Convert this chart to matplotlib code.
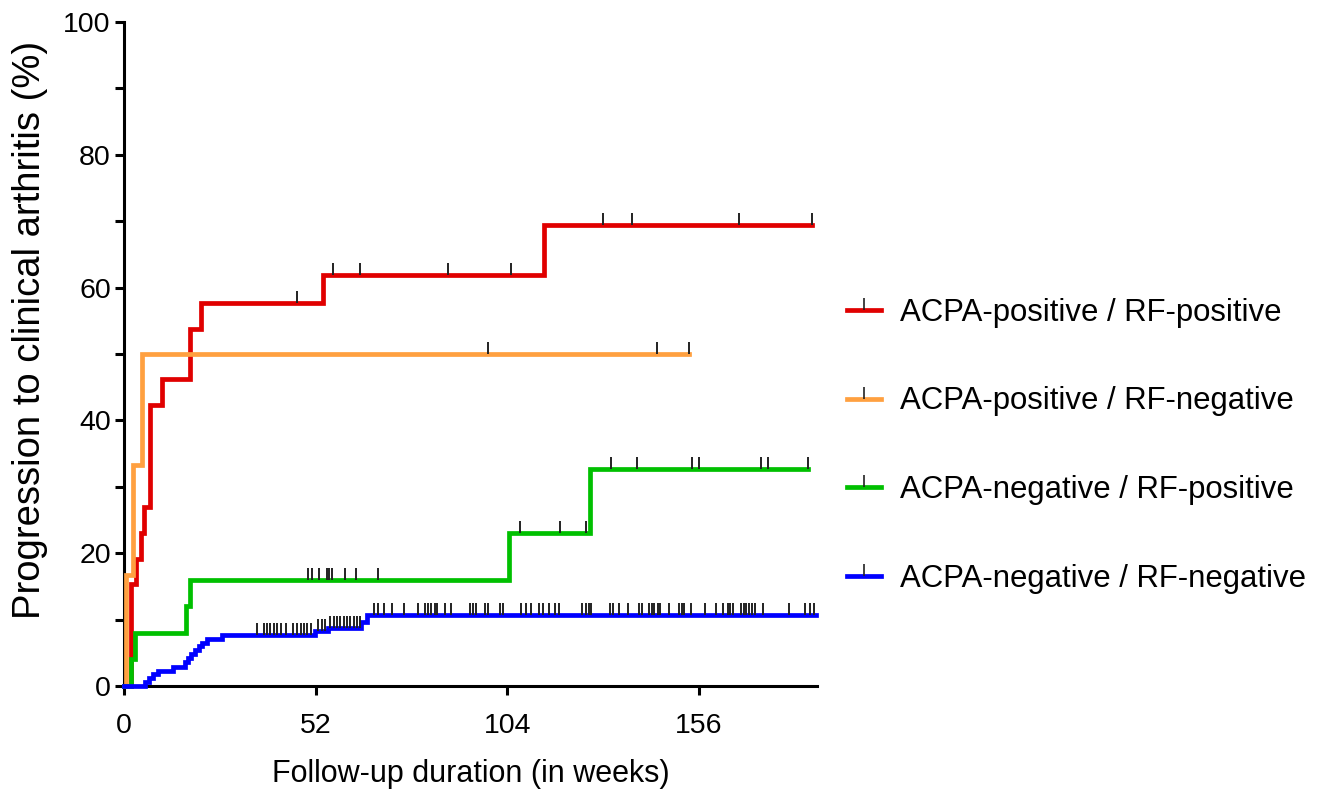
import numpy as np
import matplotlib
matplotlib.use('Agg')
import matplotlib.pyplot as plt
from matplotlib.path import Path
from matplotlib.lines import Line2D
from matplotlib.ticker import MultipleLocator

plt.rcParams['font.family'] = ['Liberation Sans', 'DejaVu Sans']

# ─── data (weeks, cumulative % progressed) ────────────────────────────────────
labels = ['ACPA-positive / RF-positive', 'ACPA-positive / RF-negative',
          'ACPA-negative / RF-positive', 'ACPA-negative / RF-negative']
colors = ['#e00000', '#ffa040', '#00c000', '#0000ff']

red_t = [1.8, 3.3, 4.5, 5.5, 7.0, 10.2, 17.9, 21.0, 54.0, 113.8]
red_y = [15.4, 19.2, 23.1, 26.9, 42.3, 46.2, 53.8, 57.7, 61.9, 69.5]
red_end = 186.7
red_cens = [46.9, 56.7, 64.0, 87.8, 104.9, 129.8, 137.8, 166.7, 186.7]

orange_t = [0.5, 2.5, 5.0]
orange_y = [16.7, 33.3, 50.0]
orange_end = 153.4
orange_cens = [98.8, 144.7, 153.4]

green_t = [1.8, 3.0, 16.8, 17.9, 104.3, 126.3]
green_y = [4.0, 8.0, 12.0, 16.0, 23.1, 32.7]
green_end = 185.6
green_cens = [49.9, 50.9, 52.9, 55.0, 55.7, 56.5, 59.9, 62.9, 68.9,
              107.5, 118.3, 125.2,
              132.2, 139.2, 154.0, 156.0, 172.9, 174.7, 185.6]

blue_t = [5.7, 6.8, 7.9, 9.3, 13.4, 16.5, 17.3, 18.2, 19.2, 20.2, 21.1,
          22.4, 26.7, 51.8, 55.4, 64.4, 65.8]
blue_y = [0.6, 1.2, 1.8, 2.3, 2.9, 3.6, 4.2, 4.8, 5.4, 6.0, 6.5,
          7.1, 7.7, 8.3, 8.8, 9.6, 10.7]
blue_end = 187.8
blue_cens = [36.0, 37.9, 38.8, 39.7, 40.7, 41.6, 42.7, 43.9, 45.9, 47.0,
             47.9, 48.8, 49.7, 50.6, 52.7, 53.6, 54.5, 55.8, 56.9, 57.8,
             58.7, 59.6, 60.5, 61.4, 62.3, 63.2, 64.0,
             67.8, 69.0, 70.5, 72.6, 75.9, 79.8, 81.6, 82.5, 83.4, 84.3,
             84.9, 87.0, 88.8, 93.8, 94.7, 95.6, 97.8, 98.7, 101.9, 102.8,
             107.8, 109.1, 110.5, 112.7, 113.6, 115.4, 116.8, 117.9,
             124.3, 125.2, 126.1, 126.8, 131.7, 132.6, 134.4, 136.7, 139.8,
             140.6, 142.5, 143.3, 143.9, 144.8, 145.5, 147.8, 150.5, 151.4,
             152.0, 153.8, 157.7, 160.6, 162.4, 163.8, 164.5, 165.1, 167.4,
             168.1, 168.7, 169.6, 170.4, 171.3, 173.4, 180.5, 184.8, 186.1,
             187.3]

groups = [
    (red_t, red_y, red_end, red_cens),
    (orange_t, orange_y, orange_end, orange_cens),
    (green_t, green_y, green_end, green_cens),
    (blue_t, blue_y, blue_end, blue_cens),
]

# censor mark: short vertical stroke pointing up from the line
TICK = Path([(0, 0), (0, 1)], [Path.MOVETO, Path.LINETO])

fig = plt.figure(figsize=(13.21, 7.92), dpi=100)
ax = fig.add_axes([0.0939, 0.1338, 0.5246, 0.8384])

LW = 3.4
for i, ((t, y, end, cens), col) in enumerate(zip(groups, colors)):
    xs = [0] + t + [end]
    ys = [0] + y + [y[-1]]
    ax.step(xs, ys, where='post', color=col, lw=LW, zorder=2 + i,
            solid_joinstyle='miter', clip_on=False)
    lev = np.array([0] + y)
    cy = lev[np.searchsorted(t, cens, side='right')]
    ax.plot(cens, cy, ls='none', marker=TICK, ms=17, mew=1.4,
            mec='#222222', mfc='none', zorder=10, clip_on=False)

ax.set_xlim(0, 188)
ax.set_ylim(0, 100)
ax.set_xticks([0, 52, 104, 156])
ax.yaxis.set_major_locator(MultipleLocator(20))
ax.yaxis.set_minor_locator(MultipleLocator(10))

for s in ['top', 'right']:
    ax.spines[s].set_visible(False)
for s in ['left', 'bottom']:
    ax.spines[s].set_linewidth(2.2)
ax.tick_params(which='both', direction='out', length=6.5, width=2.2,
               labelsize=20.5, pad=3)
ax.tick_params(axis='x', pad=13)

ax.set_xlabel('Follow-up duration (in weeks)', fontsize=22, labelpad=14)
ax.set_ylabel('Progression to clinical arthritis (%)', fontsize=27.5)
ax.yaxis.set_label_coords(-0.110, 0.536)

handles = [Line2D([], [], color=c, lw=LW, marker=TICK, ms=17, mew=1.2,
                  mec='#222222', mfc='none') for c in colors]
ax.legend(handles, labels, loc='center left', bbox_to_anchor=(0.641, 0.437),
          bbox_transform=fig.transFigure, frameon=False, fontsize=22.4,
          handlelength=1.09, handletextpad=0.61, labelspacing=1.89,
          borderpad=0, borderaxespad=0, numpoints=1)

fig.savefig('out.png', dpi=100)
